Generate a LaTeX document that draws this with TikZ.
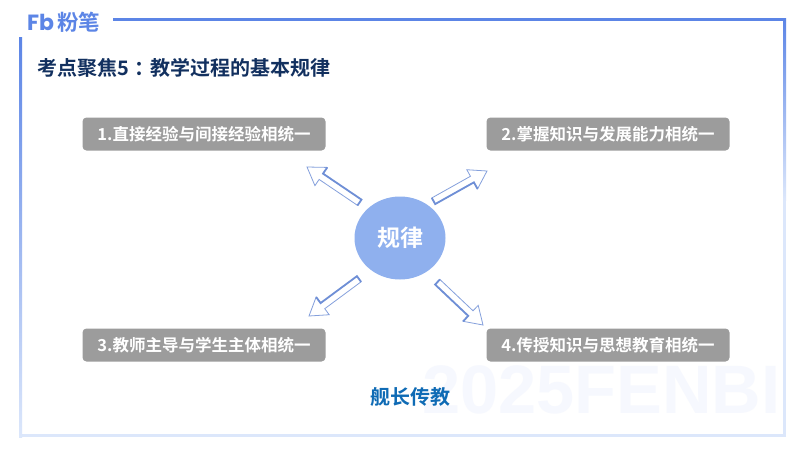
\documentclass[tikz,border=0pt]{standalone}
\usepackage{fontspec}
\usetikzlibrary{calc,shapes.geometric}
\setmainfont{Noto Sans CJK SC Bold}
\newfontfamily\wmfont{Liberation Sans Bold}
\newfontfamily\logofont{Poppins Bold}
\definecolor{bluemain}{HTML}{5C85E6}
\definecolor{bluepale}{HTML}{DCE7FB}
\definecolor{bluemid}{HTML}{8FB0EE}
\definecolor{navy}{HTML}{12305F}
\definecolor{boxgray}{HTML}{9C9C9C}
\definecolor{teacher}{HTML}{0F6BB5}
\definecolor{arrowblue}{HTML}{6F8FD6}
\definecolor{wm}{HTML}{F6F8FE}
\tikzset{
  topic/.style={fill=boxgray,rounded corners=4pt,minimum width=243pt,minimum height=33pt,inner sep=0pt,text=white,font=\fontsize{16.5pt}{18pt}\selectfont},
  hub/.style={ellipse,fill=bluemid,text=white,minimum width=91pt,minimum height=83pt,inner sep=0pt,font=\fontsize{23pt}{25pt}\selectfont},
  thinside/.style={draw=arrowblue!85,line width=.8pt,fill=white,line join=miter},
  thickside/.style={draw=arrowblue,line width=1.8pt,line join=miter}
}
% hollow arrow from named tail to named tip, heavier along its right-hand side
\newcommand{\hollowarrow}[2]{%
  \coordinate (hb) at ($(#2)!17pt!(#1)$);
  \coordinate (tl) at ($(#1)!3.5pt!90:(#2)$);
  \coordinate (tr) at ($(#1)!3.5pt!-90:(#2)$);
  \coordinate (sl) at ($(hb)!3.5pt!90:(#2)$);
  \coordinate (sr) at ($(hb)!3.5pt!-90:(#2)$);
  \coordinate (wl) at ($(hb)!11pt!90:(#2)$);
  \coordinate (wr) at ($(hb)!11pt!-90:(#2)$);
  \draw[thinside] (tl) -- (sl) -- (wl) -- (#2) -- (wr) -- (sr) -- (tr) -- cycle;
  \draw[thickside] (tl) -- (tr) -- (sr) -- (wr);
}
\begin{document}
\begin{tikzpicture}[x=1pt,y=-1pt]
\useasboundingbox (0,0) rectangle (800,450);
\fill[white] (0,0) rectangle (800,450);
% watermark
\node[anchor=west,inner sep=0pt,text=wm,font=\wmfont\fontsize{68.5pt}{68pt}\selectfont] (mark) at (422,390) {2025FENBI};
% frame
\fill[bluepale] (19,434) rectangle (786,437);
\fill[bluepale] (783,200) rectangle (786,437);
\shade[top color=bluemain,bottom color=bluepale] (783,18) rectangle (786,200);
\shade[top color=bluemain,bottom color=bluepale] (19,37) rectangle (22,437);
\fill[bluemain] (113,17.5) rectangle (786,20.5);
% logo
\node[anchor=west,inner sep=0pt,text=bluemain,font=\logofont\fontsize{22pt}{22pt}\selectfont] (fb) at (27,22) {Fb};
\node[anchor=west,inner sep=0pt,text=bluemain,font=\fontsize{21.5pt}{22pt}\selectfont] (brand) at (57,22) {粉笔};
% title
\node[anchor=west,inner sep=0pt,text=navy,font=\fontsize{20pt}{21pt}\selectfont] (title) at (37,68) {考点聚焦5\kern5pt：\kern-4pt教学过程的基本规律};
% nodes
\node[topic] (t1) at (204,134) {1.直接经验与间接经验相统一};
\node[topic] (t2) at (608,134) {2.掌握知识与发展能力相统一};
\node[topic] (t3) at (204,345) {3.教师主导与学生主体相统一};
\node[topic] (t4) at (608,345) {4.传授知识与思想教育相统一};
\node[hub] (hub) at (400,238) {规律};
\node[inner sep=0pt,text=teacher,font=\fontsize{20pt}{21pt}\selectfont] (teacher) at (410,397) {舰长传教};
% arrows
\coordinate (a1) at (359.5,202.5); \coordinate (b1) at (307,167);
\coordinate (a2) at (433.5,201);   \coordinate (b2) at (487,171);
\coordinate (a3) at (359,279);     \coordinate (b3) at (309,316);
\coordinate (a4) at (437.5,282);   \coordinate (b4) at (483,325);
\hollowarrow{a1}{b1}
\hollowarrow{a2}{b2}
\hollowarrow{a3}{b3}
\hollowarrow{a4}{b4}
\end{tikzpicture}
\end{document}
